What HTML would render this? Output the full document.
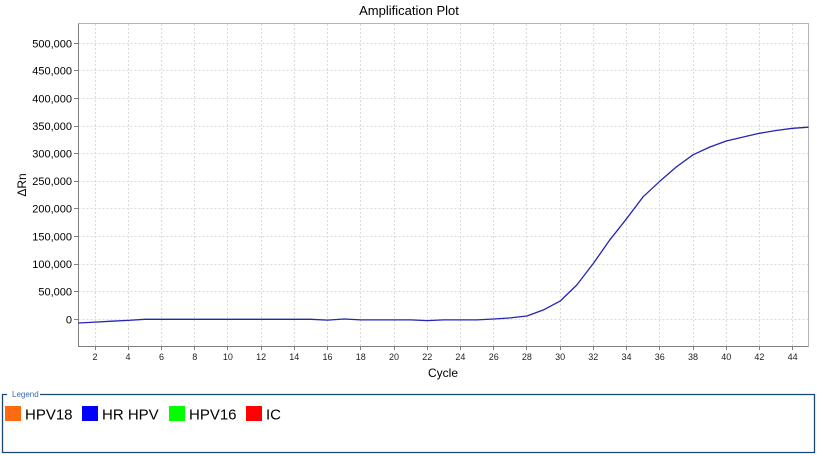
<!DOCTYPE html>
<html><head><meta charset="utf-8"><style>
html,body{margin:0;padding:0;background:#fff;}
svg{display:block;}
text{font-family:"Liberation Sans",Arial,sans-serif;}
</style></head><body>
<svg width="817" height="456" viewBox="0 0 817 456" xmlns="http://www.w3.org/2000/svg">
<rect width="817" height="456" fill="#fff"/>
<text x="409" y="15" font-size="13" text-anchor="middle" fill="#000">Amplification Plot</text>
<g stroke="#dadada" stroke-width="1" stroke-dasharray="2,2">
<path d="M78.5 319.5H808M78.5 291.5H808M78.5 264.5H808M78.5 236.5H808M78.5 208.5H808M78.5 181.5H808M78.5 153.5H808M78.5 126.5H808M78.5 98.5H808M78.5 70.5H808M78.5 43.5H808"/>
<path d="M95.5 24V346M128.5 24V346M161.5 24V346M194.5 24V346M227.5 24V346M261.5 24V346M294.5 24V346M327.5 24V346M360.5 24V346M394.5 24V346M427.5 24V346M460.5 24V346M493.5 24V346M526.5 24V346M560.5 24V346M593.5 24V346M626.5 24V346M659.5 24V346M693.5 24V346M726.5 24V346M759.5 24V346M792.5 24V346"/>
</g>
<path d="M78.5 23.5H808.5V346.5" fill="none" stroke="#b4b4b4" stroke-width="1"/>
<path d="M78.5 23.5V346.5H808.5" fill="none" stroke="#808080" stroke-width="1"/>
<g stroke="#808080" stroke-width="1">
<path d="M74 319.5H78M74 291.5H78M74 264.5H78M74 236.5H78M74 208.5H78M74 181.5H78M74 153.5H78M74 126.5H78M74 98.5H78M74 70.5H78M74 43.5H78"/>
<path d="M95.5 346V350M128.5 346V350M161.5 346V350M194.5 346V350M227.5 346V350M261.5 346V350M294.5 346V350M327.5 346V350M360.5 346V350M394.5 346V350M427.5 346V350M460.5 346V350M493.5 346V350M526.5 346V350M560.5 346V350M593.5 346V350M626.5 346V350M659.5 346V350M693.5 346V350M726.5 346V350M759.5 346V350M792.5 346V350"/>
</g>
<g font-size="11" text-anchor="end" fill="#000">
<text x="72" y="323.5">0</text>
<text x="72" y="295.5">50,000</text>
<text x="72" y="268">100,000</text>
<text x="72" y="240.5">150,000</text>
<text x="72" y="212.5">200,000</text>
<text x="72" y="185">250,000</text>
<text x="72" y="157.5">300,000</text>
<text x="72" y="130">350,000</text>
<text x="72" y="102.5">400,000</text>
<text x="72" y="74.5">450,000</text>
<text x="72" y="47.5">500,000</text>
</g>
<text transform="translate(26,185) rotate(-90)" font-size="12" text-anchor="middle" fill="#000">ΔRn</text>
<g font-size="9" text-anchor="middle" fill="#222">
<text x="95" y="360">2</text><text x="128" y="360">4</text><text x="161.5" y="360">6</text><text x="194.7" y="360">8</text>
<text x="227.9" y="360">10</text><text x="261.1" y="360">12</text><text x="294.3" y="360">14</text><text x="327.5" y="360">16</text>
<text x="360.8" y="360">18</text><text x="394" y="360">20</text><text x="427.2" y="360">22</text><text x="460.4" y="360">24</text>
<text x="493.7" y="360">26</text><text x="526.9" y="360">28</text><text x="560.1" y="360">30</text><text x="593.3" y="360">32</text>
<text x="626.5" y="360">34</text><text x="659.8" y="360">36</text><text x="693" y="360">38</text><text x="726.2" y="360">40</text>
<text x="759.4" y="360">42</text><text x="792.6" y="360">44</text>
</g>
<text x="443" y="377" font-size="12" text-anchor="middle" fill="#000">Cycle</text>
<polyline fill="none" stroke="#2424b8" stroke-width="1.3" stroke-linejoin="round" points="78.4,323.0 95.0,322.1 111.6,321.2 128.2,320.4 144.8,319.3 161.5,319.3 178.1,319.3 194.7,319.3 211.3,319.3 227.9,319.3 244.5,319.3 261.1,319.3 277.7,319.3 294.3,319.3 310.9,319.3 327.6,320.1 344.2,319.0 360.8,319.9 377.4,319.9 394.0,319.9 410.6,319.9 427.2,320.6 443.8,319.9 460.4,319.9 477.0,319.9 493.7,319.0 510.3,317.9 526.9,316.0 543.5,309.9 560.1,301.1 576.7,285.1 593.3,263.5 609.9,239.8 626.5,218.8 643.1,196.8 659.8,181.3 676.4,166.9 693.0,154.8 709.6,147.1 726.2,141.0 742.8,137.1 759.4,133.3 776.0,130.5 792.6,128.3 808.5,127.2"/>
<path d="M7 394.5H2.5V452.5H814.5V394.5H40" fill="none" stroke="#1a4674" stroke-width="1.3"/>
<text x="12" y="397" font-size="8" fill="#3a6aa8">Legend</text>
<rect x="5" y="406" width="16" height="15" fill="#ff6a10"/>
<text x="25" y="419.5" font-size="15" fill="#000">HPV18</text>
<rect x="82" y="406" width="16" height="15" fill="#0000ff"/>
<text x="102" y="419.5" font-size="15" fill="#000">HR HPV</text>
<rect x="169" y="406" width="16" height="15" fill="#00ff00"/>
<text x="189" y="419.5" font-size="15" fill="#000">HPV16</text>
<rect x="246" y="406" width="16" height="15" fill="#ff0000"/>
<text x="266" y="419.5" font-size="15" fill="#000">IC</text>
</svg>
</body></html>
